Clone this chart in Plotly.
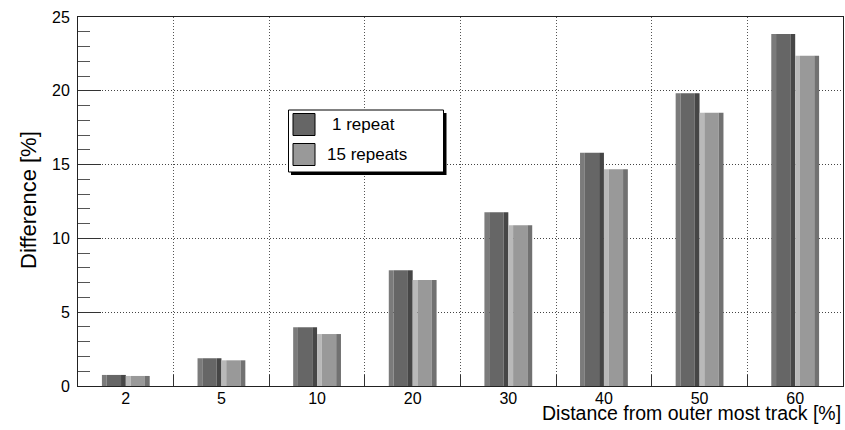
import numpy as np
import plotly.graph_objects as go

# Bin labels and the two measured series
categories = ["2", "5", "10", "20", "30", "40", "50", "60"]
one_repeat = [0.75, 1.88, 3.98, 7.84, 11.77, 15.80, 19.83, 23.85]
fifteen_repeats = [0.68, 1.74, 3.52, 7.18, 10.89, 14.68, 18.52, 22.38]
series_names = ["1 repeat", "15 repeats"]

W, H = 845, 430
L, R, T, B = 78, 2, 17, 44
PW, PH = W - L - R, H - T - B


def px(xp):
    return (xp - L) / PW


def py(yp):
    return (T + PH - yp) / PH


centers = np.arange(len(categories)) + 0.5
FONT = "Liberation Sans, Arial, Helvetica, sans-serif"

# each bar has a bright left strip, a flat middle and a dark right strip
shades = [
    ("#7b7b7b", "#666666", "#464646"),
    ("#b9b9b9", "#999999", "#717171"),
]
bar_w = 0.25
strip = 0.2 * bar_w

fig = go.Figure()
for s, (vals, (c_l, c_m, c_r)) in enumerate(zip([one_repeat, fifteen_repeats], shades)):
    start = -bar_w + s * bar_w
    parts = [
        (start, strip, c_l),
        (start + strip, bar_w - 2 * strip, c_m),
        (start + bar_w - strip, strip, c_r),
    ]
    for off, wd, col in parts:
        fig.add_trace(go.Bar(
            x=centers, y=vals, offset=off, width=wd,
            marker=dict(color=col, line=dict(width=0)),
            showlegend=False, hoverinfo="skip",
        ))

fig.update_layout(
    width=W, height=H,
    margin=dict(l=L, r=R, t=T, b=B),
    paper_bgcolor="white", plot_bgcolor="white",
    barmode="overlay",
    font=dict(family=FONT, size=16, color="black"),
    showlegend=False,
)

fig.update_xaxes(
    range=[0, len(categories)],
    tickmode="array", tickvals=centers, ticktext=categories,
    ticks="", showgrid=False, zeroline=False,
    showline=True, linecolor="#222222", linewidth=1, mirror=True,
    tickfont=dict(size=16), ticklabelstandoff=-2,
    minor=dict(
        tickmode="array", tickvals=list(range(1, len(categories))),
        ticks="inside", ticklen=11, tickcolor="#333333", tickwidth=1,
        showgrid=True, gridcolor="#555555", griddash="1px,2px", gridwidth=1,
    ),
)

fig.update_yaxes(
    range=[0, 25], tickmode="linear", tick0=0, dtick=5,
    ticks="inside", ticklen=23, tickcolor="#333333", tickwidth=1,
    showgrid=True, gridcolor="#444444", griddash="1px,2px", gridwidth=1,
    zeroline=False,
    showline=True, linecolor="#222222", linewidth=1, mirror=True,
    tickfont=dict(size=16), ticklabelstandoff=4,
    minor=dict(dtick=1, ticks="inside", ticklen=12, tickcolor="#555555",
               tickwidth=1, showgrid=False),
)

# legend box with drop shadow
fig.add_shape(type="rect", xref="paper", yref="paper",
              x0=px(291), x1=px(446.5), y0=py(175), y1=py(113),
              fillcolor="black", line=dict(width=0))
fig.add_shape(type="rect", xref="paper", yref="paper",
              x0=px(288.5), x1=px(443.5), y0=py(172), y1=py(110),
              fillcolor="white", line=dict(color="black", width=1))
legend_rows = [(124.5, shades[0][1], 330), (154.5, shades[1][1], 325)]
for (yc, col, tx), name in zip(legend_rows, series_names):
    fig.add_shape(type="rect", xref="paper", yref="paper",
                  x0=px(293), x1=px(315), y0=py(yc + 11), y1=py(yc - 11),
                  fillcolor=col, line=dict(color="black", width=1))
    fig.add_annotation(text=name, xref="paper", yref="paper",
                       x=px(tx), y=py(yc), xanchor="left", yanchor="middle",
                       showarrow=False, font=dict(size=17, family=FONT))

# axis titles
fig.add_annotation(text="Distance from outer most track [%]",
                   xref="paper", yref="paper", x=1.0, y=py(413),
                   xanchor="right", yanchor="middle", showarrow=False,
                   font=dict(size=19.5, family=FONT))
fig.add_annotation(text="Difference [%]", xref="paper", yref="paper",
                   x=px(28), y=py(200), xanchor="center", yanchor="middle",
                   textangle=-90, showarrow=False,
                   font=dict(size=22, family=FONT))

fig.write_html("out.html")
